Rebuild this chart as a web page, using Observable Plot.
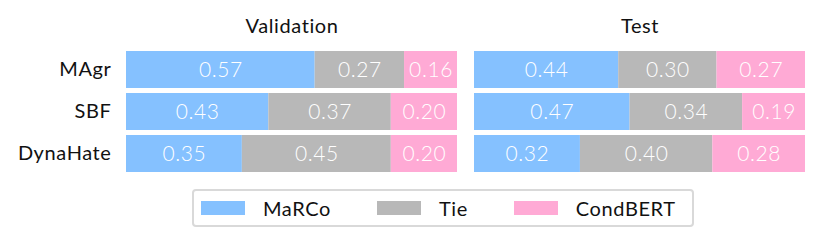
<!DOCTYPE html>
<html>
<head>
<meta charset="utf-8">
<script src="https://cdn.jsdelivr.net/npm/d3@7"></script>
<script src="https://cdn.jsdelivr.net/npm/@observablehq/plot@0.6"></script>
<style>
  html, body { margin: 0; padding: 0; background: #fff; }
  body { font-family: Lato, sans-serif; color: #111; }
  #chart { width: 823px; }
  #legend {
    box-sizing: border-box;
    margin: 7px 0 0 192px;
    width: 502px; height: 38px;
    border: 2px solid #d9d9d9; border-radius: 4px;
    display: flex; align-items: center; padding-left: 7px;
    font-size: 20px; letter-spacing: 0.6px;
  }
  .item { display: flex; align-items: center; margin-right: 46px; }
  .sw { width: 44px; height: 14px; margin-right: 18px; }
</style>
</head>
<body>
<div id="chart"></div>
<div id="legend"></div>
<script>
const splits = ["Validation", "Test"];
const datasets = ["MAgr", "SBF", "DynaHate"];
const methods = ["MaRCo", "Tie", "CondBERT"];
const colors = ["#85c1ff", "#b8b8b8", "#ffaad5"];
// values per dataset: [MaRCo, Tie, CondBERT]
const validationValues = [
  [0.57, 0.27, 0.16],
  [0.43, 0.37, 0.20],
  [0.35, 0.45, 0.20]
];
const testValues = [
  [0.44, 0.30, 0.27],
  [0.47, 0.34, 0.19],
  [0.32, 0.40, 0.28]
];

const rows = [];
[validationValues, testValues].forEach((tbl, si) => {
  tbl.forEach((vals, di) => {
    vals.forEach((v, mi) => {
      rows.push({split: splits[si], dataset: datasets[di], method: methods[mi], value: v});
    });
  });
});

const stackOpts = {x: "value", y: "dataset", fx: "split", z: "method", order: methods, offset: "normalize"};

const plot = Plot.plot({
  width: 823,
  height: 182,
  marginLeft: 126,
  marginRight: 18,
  marginTop: 51,
  marginBottom: 10,
  style: {fontFamily: "Lato, sans-serif", fontSize: "20px", color: "#111", background: "#fff", letterSpacing: "0.6px"},
  fx: {domain: splits, paddingInner: 0.05, paddingOuter: 0, label: null},
  y: {domain: datasets, paddingInner: 0.12, paddingOuter: 0, label: null},
  x: {domain: [0, 1], axis: null},
  color: {domain: methods, range: colors},
  marks: [
    Plot.barX(rows, Plot.stackX({...stackOpts, fill: "method", inset: 0})),
    Plot.text(rows, Plot.stackX({...stackOpts, text: d => d.value.toFixed(2), fill: "white", fontSize: 21, fontWeight: 300})),
    Plot.axisY({tickSize: 0, tickPadding: 15, label: null, fontSize: 20}),
    Plot.axisFx({anchor: "top", tickSize: 0, tickPadding: 19, label: null, fontSize: 20})
  ]
});
document.getElementById("chart").appendChild(plot);

const legend = document.getElementById("legend");
methods.forEach((m, i) => {
  const item = document.createElement("div");
  item.className = "item";
  const sw = document.createElement("div");
  sw.className = "sw";
  sw.style.background = colors[i];
  const label = document.createElement("span");
  label.textContent = m;
  item.appendChild(sw);
  item.appendChild(label);
  legend.appendChild(item);
});
</script>
</body>
</html>
